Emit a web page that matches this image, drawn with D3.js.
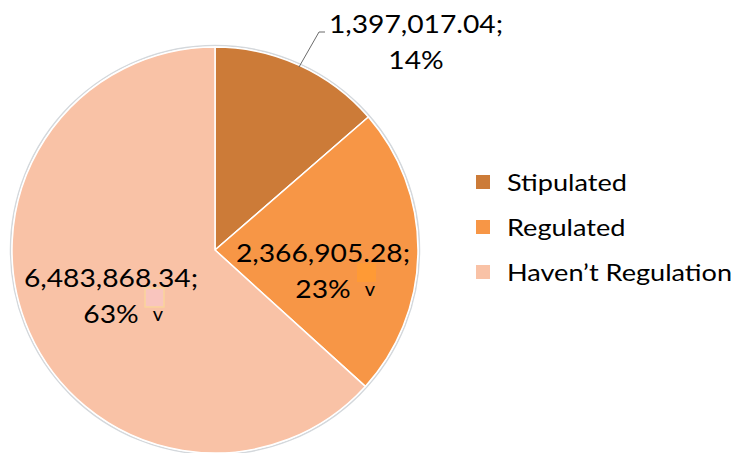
<!DOCTYPE html>
<html>
<head>
<meta charset="utf-8">
<script src="https://cdn.jsdelivr.net/npm/d3@7"></script>
<style>
  body { margin: 0; background: #fff; }
  svg { display: block; font-family: Lato, "Open Sans", sans-serif; }
</style>
</head>
<body>
<svg id="chart"></svg>
<script>
const categories = ["Stipulated", "Regulated", "Haven\u2019t Regulation"];
const values = [1397017.04, 2366905.28, 6483868.34];
const colors = ["#CC7B38", "#F79646", "#F9C2A6"];

const width = 735;
const height = 453;
const cx = 215;
const cy = 250;
const radius = 203;
const stretch = 1.13; // text in the picture is a bit wider than Lato

const svg = d3.select("#chart")
  .attr("width", width)
  .attr("height", height);

const g = svg.append("g")
  .attr("transform", `translate(${cx},${cy})`);

const pie = d3.pie()
  .sort(null)
  .value(d => d.value);

const arc = d3.arc()
  .innerRadius(0)
  .outerRadius(radius);

const data = categories.map((c, i) => ({ name: c, value: values[i], color: colors[i] }));
const arcs = pie(data);
const total = d3.sum(values);
const fmt = d3.format(",.2f");

// faint grey rim round the pie
g.append("circle")
  .attr("r", radius + 1.5)
  .style("fill", "none")
  .style("stroke", "#d4d8dc")
  .style("stroke-width", 1.5);

g.selectAll("path")
  .data(arcs)
  .enter()
  .append("path")
  .attr("d", arc)
  .style("fill", d => d.data.color)
  .style("stroke", "#fff")
  .style("stroke-width", 1.5);

// leader line for the small slice
const edge = d3.arc().innerRadius(radius).outerRadius(radius).centroid(arcs[0]);
g.append("polyline")
  .attr("points", [[84, -183], [104, -218], [110, -218]].map(p => p.join(",")).join(" "))
  .style("fill", "none")
  .style("stroke", "#6b6b6b")
  .style("stroke-width", 1);

// label anchors (relative to the pie centre), excel-style placement
const labelPos = [[201, -217], [108, 12], [-104, 37]];
const markFill = [null, "#FF9A35", "#F9C5BE"];
const markStroke = [null, "none", "#FAD39A"];

const labels = g.selectAll(".lbl")
  .data(arcs)
  .enter()
  .append("g")
  .attr("class", "lbl")
  .attr("transform", (d, i) => `translate(${labelPos[i]})`);

// stray legend-key squares and "v" inside the two lower labels
labels.filter((d, i) => i > 0).append("rect")
  .attr("x", 34)
  .attr("y", 1)
  .attr("width", 19)
  .attr("height", 19)
  .style("fill", d => markFill[d.index])
  .style("stroke", d => markStroke[d.index])
  .style("stroke-width", 1.5);

labels.filter((d, i) => i > 0).append("text")
  .attr("x", 47)
  .attr("y", 34)
  .attr("text-anchor", "middle")
  .style("font-size", "20px")
  .text("v");

labels.append("text")
  .attr("text-anchor", "middle")
  .attr("transform", `scale(${stretch},1)`)
  .style("font-size", "25px")
  .style("fill", "#000")
  .text(d => `${fmt(d.data.value)};`);

labels.append("text")
  .attr("text-anchor", "middle")
  .attr("transform", `translate(0,36) scale(${stretch},1)`)
  .style("font-size", "25px")
  .style("fill", "#000")
  .text(d => `${Math.round(d.data.value / total * 100)}%`);

// legend
const legend = svg.append("g")
  .attr("transform", "translate(476,175)");

const item = legend.selectAll("g")
  .data(data)
  .enter()
  .append("g")
  .attr("transform", (d, i) => `translate(0,${i * 45})`);

item.append("rect")
  .attr("width", 14)
  .attr("height", 14)
  .style("fill", d => d.color);

item.append("text")
  .attr("transform", `translate(31,16) scale(${stretch},1)`)
  .style("font-size", "24px")
  .style("fill", "#000")
  .text(d => d.name);
</script>
</body>
</html>
